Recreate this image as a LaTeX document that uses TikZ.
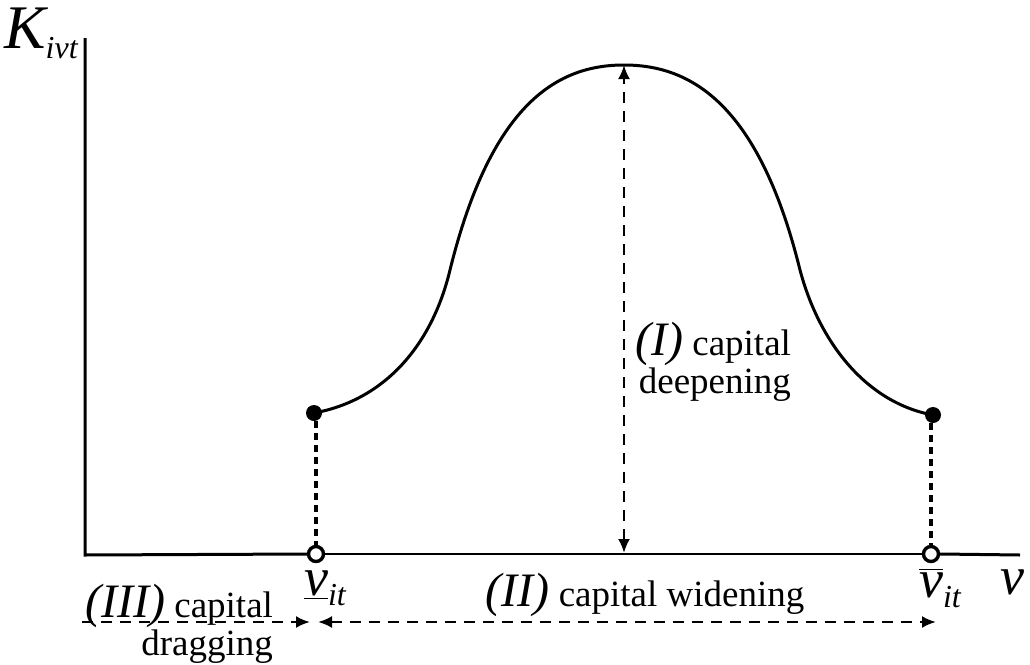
\documentclass[tikz,border=0pt]{standalone}
\usepackage{fontspec}
\setmainfont{Liberation Serif}
\usetikzlibrary{arrows.meta,positioning,calc}

\newcommand{\rn}[1]{{\fontsize{24}{24}\selectfont\itshape #1}}
\newcommand{\varsym}[1]{{\fontsize{27}{27}\selectfont\itshape #1}}
\newcommand{\subtxt}[1]{\raisebox{-5pt}{\fontsize{16}{16}\selectfont\itshape #1}}

\begin{document}
\begin{tikzpicture}[x=0.5pt, y=-0.5pt, >={Latex[length=7pt,width=6pt]},
  every node/.style={font=\fontsize{18.5}{17.5}\selectfont, align=center},
  dot/.style={circle, fill, inner sep=0pt, minimum size=8pt},
  ring/.style={circle, draw, line width=1.7pt, inner sep=0pt, minimum size=7.5pt},
  axis/.style={line width=1.5pt},
  thinaxis/.style={line width=1pt},
  drop/.style={line width=1.6pt, dash pattern=on 3.5pt off 2.5pt},
  span/.style={line width=1.2pt, dash pattern=on 5.5pt off 4pt}]
\useasboundingbox (0,0) rectangle (1030,665);

% axes
\coordinate (O) at (85,555);
\coordinate (ytop) at (85,38);
\coordinate (xend) at (1020,555);
\node[ring] (vl) at (316,554) {};
\node[ring] (vh) at (931,554) {};
\draw[axis] (ytop) -- (O) -- (vl.west);
\draw[thinaxis] (vl.east) -- (vh.west);
\draw[axis] (vh.east) -- (xend);

% curve
\node[dot] (lo) at (314,413) {};
\node[dot] (hi) at (933,415) {};
\coordinate (top) at (624,65);
\draw[line width=1.5pt] (lo.center) .. controls (385,400) and (432,345) .. (450,270)
  .. controls (492,100) and (560,65) .. (top)
  .. controls (688,65) and (758,100) .. (800,270)
  .. controls (820,345) and (868,403) .. (hi.center);
\draw[drop] (lo.south -| vl) -- (vl);
\draw[drop] (hi.south -| vh) -- (vh);

% (I)
\coordinate (base) at (624,553);
\draw[span,<->] (base) -- (top);
\node[align=right, anchor=east] (deep) at (798,362) {\rn{(I)} capital\\deepening};

% labels
\node (Klab) at (41,33) {{\fontsize{31}{31}\selectfont\itshape K}\subtxt{ivt}};
\node (vlab) at (1012,582) {\varsym{v}};
\node (vlow) at (325,588) {\underline{\varsym{v}}\subtxt{it}};
\node (vhigh) at (940,588) {$\overline{\hbox{\varsym{v}}}$\subtxt{it}};

% (II), (III)
\coordinate (a0) at (82,622);
\coordinate (a1) at (310,622);
\coordinate (a2) at (318,622);
\coordinate (a3) at (936,622);
\draw[span,->] (a0) -- (a1);
\draw[span,<->] (a2) -- (a3);
\node (wide) at (645,595) {\rn{(II)} capital widening};
\node[align=right, anchor=east] (drag) at (280,624) {\rn{(III)} capital\\dragging};
\end{tikzpicture}
\end{document}
